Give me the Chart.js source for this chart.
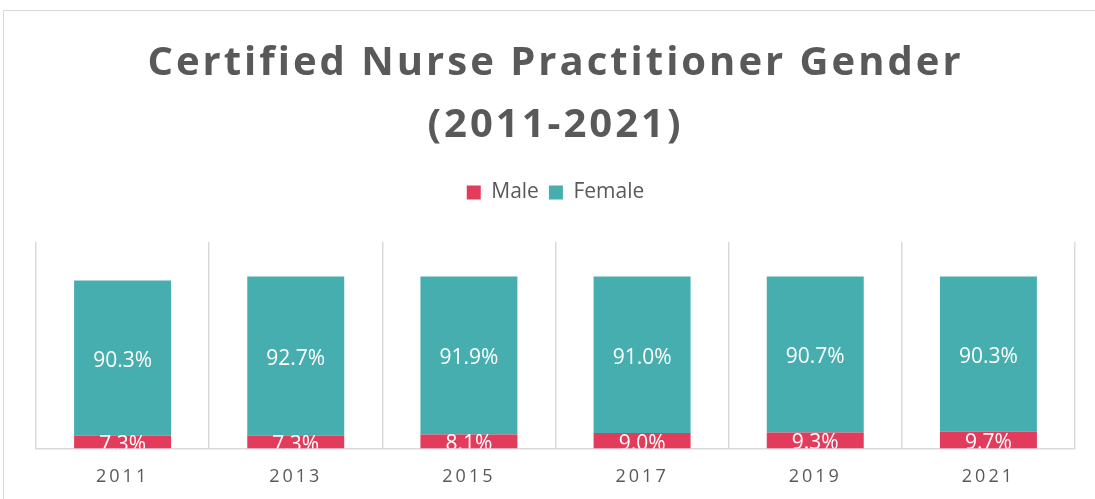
<!DOCTYPE html>
<html>
<head>
<meta charset="utf-8">
<title>Certified Nurse Practitioner Gender (2011-2021)</title>
<script src="https://cdn.jsdelivr.net/npm/chart.js@4.4.1/dist/chart.umd.min.js"></script>
<style>
  html, body { margin: 0; padding: 0; background: #fff; overflow: hidden; }
  #frame { position: absolute; left: 3px; top: 10px; width: 1200px; height: 600px; border-left: 1px solid #d9d9d9; border-top: 1px solid #d9d9d9; }
  #wrap { position: absolute; left: 0; top: 0; width: 1095px; height: 506px; }
</style>
</head>
<body>
<div id="frame"></div>
<div id="wrap"><canvas id="chart"></canvas></div>
<script>
// chart data
const years = ['2011', '2013', '2015', '2017', '2019', '2021'];
const male = [7.3, 7.3, 8.1, 9.0, 9.3, 9.7];
const female = [90.3, 92.7, 91.9, 91.0, 90.7, 90.3];

const TEXT = '#595959';
const GRID = '#d9d9d9';

// Excel-style spaced lettering for title and axis labels, legend gets extra gap below
const spacing = {
  id: 'spacing',
  afterInit(chart) {
    const legend = chart.legend;
    const fit = legend.fit;
    legend.fit = function () { fit.call(this); this.height += 29; };

    const tb = chart.titleBlock;
    const drawTitle = tb.draw;
    tb.draw = function () {
      const ctx = chart.ctx;
      ctx.save();
      ctx.letterSpacing = '3px';
      drawTitle.apply(this, arguments);
      ctx.restore();
    };
  },
  beforeDraw(chart) {
    const x = chart.scales.x;
    if (x && !x._spaced) {
      const drawLabels = x.drawLabels;
      x.drawLabels = function () {
        const ctx = chart.ctx;
        ctx.save();
        ctx.letterSpacing = '3px';
        drawLabels.apply(this, arguments);
        ctx.restore();
      };
      x._spaced = true;
    }
  }
};

// value labels centred in each segment, clipped to the plot area
const barLabels = {
  id: 'barLabels',
  afterDatasetsDraw(chart) {
    const { ctx, chartArea } = chart;
    ctx.save();
    ctx.beginPath();
    ctx.rect(chartArea.left, chartArea.top, chartArea.right - chartArea.left, chartArea.bottom - chartArea.top);
    ctx.clip();
    ctx.font = '21px "Open Sans"';
    ctx.fillStyle = '#ffffff';
    ctx.textAlign = 'center';
    ctx.textBaseline = 'middle';
    chart.data.datasets.forEach((ds, i) => {
      chart.getDatasetMeta(i).data.forEach((bar, j) => {
        const y = (bar.y + bar.base) / 2 + 3;
        ctx.fillText(ds.data[j].toFixed(1) + '%', bar.x, y);
      });
    });
    ctx.restore();
  }
};

new Chart(document.getElementById('chart'), {
  type: 'bar',
  data: {
    labels: years,
    datasets: [
      { label: 'Male', data: male, backgroundColor: '#e33b5b' },
      { label: 'Female', data: female, backgroundColor: '#46aeaf' },
    ],
  },
  options: {
    responsive: true,
    maintainAspectRatio: false,
    animation: false,
    layout: { padding: { top: 10, left: 36, right: 20, bottom: 0 } },
    datasets: { bar: { barPercentage: 0.56, categoryPercentage: 1 } },
    plugins: {
      title: {
        display: true,
        text: ['Certified Nurse Practitioner Gender', '(2011-2021)'],
        color: TEXT,
        font: { family: '"Open Sans"', size: 40, weight: 'bold', lineHeight: 1.55 },
        padding: { top: 23, bottom: 15 },
      },
      legend: {
        display: true,
        labels: {
          color: TEXT,
          font: { family: '"Open Sans"', size: 21 },
          boxWidth: 14,
          boxHeight: 14,
          padding: 10,
        },
      },
      tooltip: { enabled: false },
    },
    scales: {
      x: {
        stacked: true,
        grid: { color: GRID, lineWidth: 1.5, drawTicks: false, offset: true },
        border: { color: GRID, width: 1.5 },
        ticks: { color: TEXT, font: { family: '"Open Sans"', size: 18 }, padding: 18 },
      },
      y: {
        stacked: true,
        display: false,
        min: 0,
        max: 120,
      },
    },
  },
  plugins: [spacing, barLabels],
});
</script>
</body>
</html>
